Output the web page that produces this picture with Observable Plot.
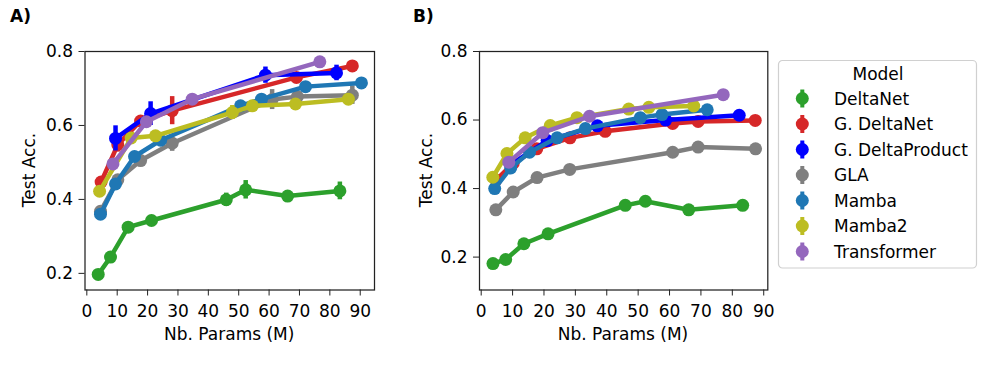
<!DOCTYPE html>
<html>
<head>
<meta charset="utf-8">
<script src="https://cdn.jsdelivr.net/npm/d3@7"></script>
<script src="https://cdn.jsdelivr.net/npm/@observablehq/plot@0.6"></script>
<style>
  body { margin: 0; background: #fff; font-family: "DejaVu Sans", sans-serif; }
  #fig { position: relative; width: 996px; height: 374px; overflow: hidden; background: #fff; }
  #fig > svg, #fig > div { position: absolute; }
</style>
</head>
<body>
<div id="fig"></div>
<script>
// ---------------- categories / colours ----------------
const models = ["DeltaNet", "G. DeltaNet", "G. DeltaProduct", "GLA", "Mamba", "Mamba2", "Transformer"];
const modelColors = ["#2ca02c", "#d62728", "#0000ff", "#7f7f7f", "#1f77b4", "#bcbd22", "#9467bd"];
const xTickValues = [0, 10, 20, 30, 40, 50, 60, 70, 80, 90];
const yTickValues = [0.2, 0.4, 0.6, 0.8];

// ---------------- Panel A ----------------
const A_DeltaNet_x = [3.75, 7.8, 13.6, 21.3, 45.9, 52.3, 66.1, 83.3];
const A_DeltaNet_y = [0.197, 0.244, 0.325, 0.343, 0.399, 0.426, 0.409, 0.423];
const A_DeltaNet_e = [0, 0, 0, 0, 0.018, 0.025, 0, 0.024];

const A_GDeltaNet_x = [4.7, 10.2, 17.7, 28.1, 69.0, 87.4];
const A_GDeltaNet_y = [0.447, 0.548, 0.612, 0.640, 0.730, 0.761];
const A_GDeltaNet_e = [0.01, 0.02, 0, 0.038, 0.01, 0];

const A_GDeltaProduct_x = [9.45, 21.0, 58.8, 82.2];
const A_GDeltaProduct_y = [0.565, 0.632, 0.736, 0.742];
const A_GDeltaProduct_e = [0.034, 0.032, 0.022, 0.021];

const A_GLA_x = [4.5, 10.2, 17.7, 28.1, 61.0, 69.3, 87.4];
const A_GLA_y = [0.368, 0.453, 0.505, 0.552, 0.670, 0.678, 0.682];
const A_GLA_e = [0, 0, 0, 0.022, 0.027, 0, 0.025];

const A_Mamba_x = [4.5, 9.45, 15.7, 24.3, 50.6, 57.5, 72.0, 90.4];
const A_Mamba_y = [0.360, 0.442, 0.516, 0.560, 0.653, 0.671, 0.705, 0.715];
const A_Mamba_e = [0, 0, 0, 0, 0, 0, 0, 0];

const A_Mamba2_x = [4.2, 14.6, 22.6, 47.9, 54.5, 68.7, 86.1];
const A_Mamba2_y = [0.422, 0.566, 0.572, 0.635, 0.653, 0.658, 0.671];
const A_Mamba2_e = [0, 0, 0, 0.019, 0, 0, 0.01];

const A_Transformer_x = [8.6, 19.6, 34.7, 76.7];
const A_Transformer_y = [0.496, 0.610, 0.671, 0.772];
const A_Transformer_e = [0, 0, 0, 0];

// ---------------- Panel B ----------------
const B_DeltaNet_x = [3.75, 7.8, 13.6, 21.3, 45.9, 52.3, 66.1, 83.3];
const B_DeltaNet_y = [0.181, 0.193, 0.239, 0.268, 0.351, 0.363, 0.338, 0.351];

const B_GDeltaNet_x = [4.7, 10.2, 17.7, 28.3, 39.5, 61.0, 69.1, 87.3];
const B_GDeltaNet_y = [0.425, 0.474, 0.516, 0.548, 0.567, 0.590, 0.596, 0.599];

const B_GDeltaProduct_x = [9.45, 21.0, 37.0, 58.8, 82.2];
const B_GDeltaProduct_y = [0.470, 0.540, 0.583, 0.600, 0.614];

const B_GLA_x = [4.66, 10.2, 17.8, 28.2, 61.0, 69.1, 87.4];
const B_GLA_y = [0.338, 0.390, 0.432, 0.456, 0.506, 0.521, 0.516];

const B_Mamba_x = [4.3, 9.4, 15.4, 24.2, 33.2, 50.7, 57.6, 72.0];
const B_Mamba_y = [0.400, 0.460, 0.506, 0.548, 0.575, 0.607, 0.616, 0.630];

const B_Mamba2_x = [3.7, 8.2, 14.0, 22.0, 30.5, 47.0, 53.4, 67.7];
const B_Mamba2_y = [0.433, 0.502, 0.548, 0.584, 0.607, 0.632, 0.637, 0.641];

const B_Transformer_x = [8.8, 19.6, 34.5, 77.1];
const B_Transformer_y = [0.477, 0.563, 0.611, 0.674];

// ---------------- build tables ----------------
function rows(model, xs, ys, es) {
  return xs.map((x, i) => ({ model, x, y: ys[i], e: es ? es[i] : 0 }));
}
const dataA = [
  ...rows("DeltaNet", A_DeltaNet_x, A_DeltaNet_y, A_DeltaNet_e),
  ...rows("G. DeltaNet", A_GDeltaNet_x, A_GDeltaNet_y, A_GDeltaNet_e),
  ...rows("G. DeltaProduct", A_GDeltaProduct_x, A_GDeltaProduct_y, A_GDeltaProduct_e),
  ...rows("GLA", A_GLA_x, A_GLA_y, A_GLA_e),
  ...rows("Mamba", A_Mamba_x, A_Mamba_y, A_Mamba_e),
  ...rows("Mamba2", A_Mamba2_x, A_Mamba2_y, A_Mamba2_e),
  ...rows("Transformer", A_Transformer_x, A_Transformer_y, A_Transformer_e)
];
const dataB = [
  ...rows("DeltaNet", B_DeltaNet_x, B_DeltaNet_y),
  ...rows("G. DeltaNet", B_GDeltaNet_x, B_GDeltaNet_y),
  ...rows("G. DeltaProduct", B_GDeltaProduct_x, B_GDeltaProduct_y),
  ...rows("GLA", B_GLA_x, B_GLA_y),
  ...rows("Mamba", B_Mamba_x, B_Mamba_y),
  ...rows("Mamba2", B_Mamba2_x, B_Mamba2_y),
  ...rows("Transformer", B_Transformer_x, B_Transformer_y)
];

const fig = document.getElementById("fig");
const FONT = '"DejaVu Sans", sans-serif';

function panel(data, xDomain, yDomain, width, marginLeft, marginRight) {
  const marks = [];
  for (const m of models) {
    const d = data.filter(r => r.model === m);
    marks.push(Plot.line(d, { x: "x", y: "y", stroke: "model", strokeWidth: 4.5, strokeLinejoin: "round" }));
    marks.push(Plot.dot(d, { x: "x", y: "y", fill: "model", r: 6.5, stroke: "none" }));
    marks.push(Plot.ruleX(d.filter(r => r.e > 0), { x: "x", y1: r => r.y - r.e, y2: r => r.y + r.e, stroke: "model", strokeWidth: 4.5 }));
  }
  marks.push(Plot.frame({ stroke: "#222", strokeWidth: 1.25 }));
  marks.push(Plot.axisX({ ticks: xTickValues, tickSize: 6, tickPadding: 9, label: null, stroke: "#222" }));
  marks.push(Plot.axisY({ ticks: yTickValues, tickFormat: d3.format(".1f"), tickSize: 6, tickPadding: 6, label: null, stroke: "#222" }));
  return Plot.plot({
    width, height: 374,
    marginLeft, marginRight, marginTop: 51, marginBottom: 84.5,
    x: { domain: xDomain },
    y: { domain: yDomain },
    color: { domain: models, range: modelColors },
    style: { fontSize: "17px", fontFamily: FONT, color: "#000", background: "transparent", overflow: "visible" },
    marks
  });
}

// overlay with panel labels and axis titles
const ov = d3.create("svg").attr("width", 996).attr("height", 374)
  .style("left", "0px").style("top", "0px")
  .attr("font-family", FONT).attr("font-size", 17).attr("fill", "#000");
ov.append("text").attr("x", 10).attr("y", 22).attr("font-weight", "bold").text("A)");
ov.append("text").attr("x", 413).attr("y", 22).attr("font-weight", "bold").text("B)");
ov.append("text").attr("transform", "translate(35,170) rotate(-90)").attr("text-anchor", "middle").text("Test Acc.");
ov.append("text").attr("transform", "translate(431.5,170) rotate(-90)").attr("text-anchor", "middle").text("Test Acc.");
ov.append("text").attr("x", 229.2).attr("y", 339.5).attr("text-anchor", "middle").text("Nb. Params (M)");
ov.append("text").attr("x", 623).attr("y", 339.5).attr("text-anchor", "middle").text("Nb. Params (M)");
fig.appendChild(ov.node());

const pA = panel(dataA, [-0.6, 94.7], [0.155, 0.8], 400, 84.5, 26);
pA.style.left = "0px"; pA.style.top = "0px"; pA.style.position = "absolute";
fig.appendChild(pA);

const pB = panel(dataB, [-0.54, 91.3], [0.104, 0.8], 400, 79, 32.7);
pB.style.left = "400px"; pB.style.top = "0px"; pB.style.position = "absolute";
fig.appendChild(pB);

// legend
const lg = d3.create("svg").attr("width", 202).attr("height", 212)
  .style("left", "777px").style("top", "59px")
  .attr("font-family", FONT).attr("font-size", 17).attr("fill", "#000");
lg.append("rect").attr("x", 1.5).attr("y", 1.5).attr("width", 198).attr("height", 207.5)
  .attr("rx", 4).attr("fill", "#fff").attr("stroke", "#d0d0d0").attr("stroke-width", 1.2);
lg.append("text").attr("x", 101).attr("y", 21).attr("text-anchor", "middle").text("Model");
models.forEach((m, i) => {
  const cy = 39.5 + i * 25.5;
  const g = lg.append("g");
  g.append("line").attr("x1", 25.3).attr("x2", 25.3).attr("y1", cy - 9).attr("y2", cy + 9)
    .attr("stroke", modelColors[i]).attr("stroke-width", 4);
  g.append("circle").attr("cx", 25.3).attr("cy", cy).attr("r", 6.5).attr("fill", modelColors[i]);
  g.append("text").attr("x", 57).attr("y", cy + 6).text(m);
});
fig.appendChild(lg.node());
</script>
</body>
</html>
